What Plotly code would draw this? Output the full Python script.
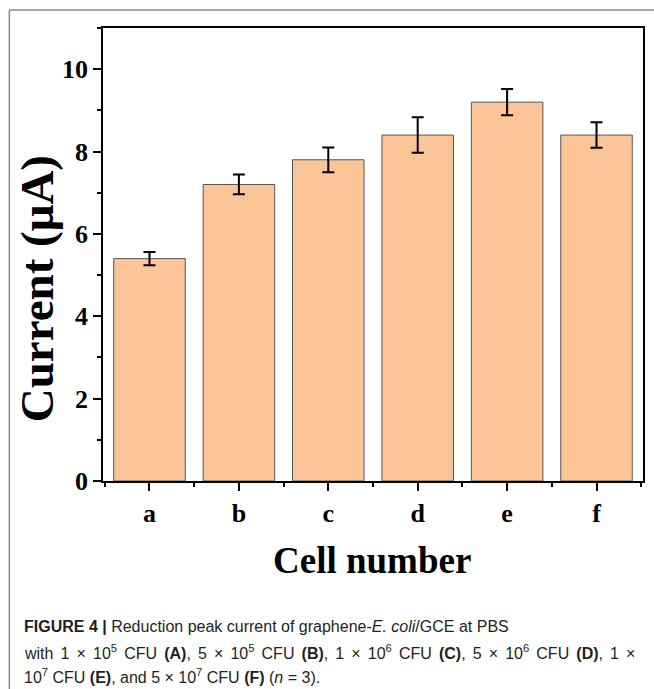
import plotly.graph_objects as go

# ---- data ----
categories = ["a", "b", "c", "d", "e", "f"]
current_uA = [5.4, 7.2, 7.8, 8.4, 9.2, 8.4]
error_uA = [0.16, 0.24, 0.30, 0.43, 0.32, 0.31]
y_ticks = [0, 2, 4, 6, 8, 10]

x_pos = list(range(len(categories)))

W, H = 654, 689
L, R, T, B = 103, 9, 28, 208
pw, ph = W - L - R, H - T - B


def px(xp):
    return (xp - L) / pw


def py(yp):
    return (H - B - yp) / ph


SERIF = "Liberation Serif, Times New Roman, serif"
SANS = "Liberation Sans, Arial, sans-serif"

fig = go.Figure()
fig.add_trace(go.Bar(
    x=x_pos,
    y=current_uA,
    width=0.8,
    marker=dict(color="#FBC597", line=dict(color="#555555", width=1)),
    error_y=dict(type="data", array=error_uA, visible=True,
                 color="black", thickness=2, width=6),
    showlegend=False,
))

fig.update_layout(
    width=W, height=H,
    margin=dict(l=L, r=R, t=T, b=B),
    paper_bgcolor="white", plot_bgcolor="white",
    xaxis=dict(
        range=[-0.52, len(categories) - 0.48],
        tickvals=x_pos, ticktext=categories,
        ticks="outside", ticklen=8, tickwidth=1.5, tickcolor="black",
        minor=dict(tickvals=[i - 0.5 for i in range(len(categories) + 1)],
                   ticks="outside", ticklen=4, tickwidth=1.5, tickcolor="black"),
        showline=True, linecolor="black", linewidth=1.5, mirror=True,
        showgrid=False, zeroline=False,
        tickfont=dict(family=SERIF, size=26, color="black", weight="bold"),
    ),
    yaxis=dict(
        range=[0, 11],
        tickvals=y_ticks,
        ticks="outside", ticklen=8, tickwidth=1.5, tickcolor="black",
        minor=dict(dtick=1, tick0=0, ticks="outside", ticklen=4,
                   tickwidth=1.5, tickcolor="black"),
        showline=True, linecolor="black", linewidth=1.5, mirror=True,
        showgrid=False, zeroline=False,
        tickfont=dict(family=SERIF, size=26, color="black", weight="bold"),
    ),
)

# axis titles
fig.add_annotation(text="<b>Cell number</b>", xref="paper", yref="paper",
                   x=px(373), y=py(560), showarrow=False,
                   xanchor="center", yanchor="middle",
                   font=dict(family=SERIF, size=37, color="black"))
fig.add_annotation(text="<b>Current (μA)</b>", xref="paper", yref="paper",
                   x=px(37), y=py(289), showarrow=False, textangle=-90,
                   xanchor="center", yanchor="middle",
                   font=dict(family=SERIF, size=47, color="black"))

# caption
TS = " \u2006"  # justified line: slightly wider word spacing
caption_lines = [
    "<b>FIGURE 4 |</b> Reduction peak current of graphene-<i>E. coli</i>/GCE at PBS",
    TS.join(["with", "1", "×", "10<sup>5</sup>", "CFU", "<b>(A)</b>,", "5", "×",
             "10<sup>5</sup>", "CFU", "<b>(B)</b>,", "1", "×", "10<sup>6</sup>",
             "CFU", "<b>(C)</b>,", "5", "×", "10<sup>6</sup>", "CFU",
             "<b>(D)</b>,", "1", "×"]),
    "10<sup>7</sup> CFU <b>(E)</b>, and 5 × 10<sup>7</sup> CFU <b>(F)</b> (<i>n</i> = 3).",
]
caption_y = [627, 652, 676]
for line, yy in zip(caption_lines, caption_y):
    fig.add_annotation(text=line, xref="paper", yref="paper",
                       x=px(22), y=py(yy), showarrow=False,
                       xanchor="left", yanchor="middle", align="left",
                       font=dict(family=SANS, size=16, color="#231f20"))

# outer frame (left and top edges)
fig.add_shape(type="line", xref="paper", yref="paper",
              x0=px(9), x1=px(700), y0=py(10), y1=py(10),
              line=dict(color="#8a8a8a", width=1.5))
fig.add_shape(type="line", xref="paper", yref="paper",
              x0=px(9), x1=px(9), y0=py(10), y1=py(720),
              line=dict(color="#8a8a8a", width=1.5))

fig.write_html("out.html")
